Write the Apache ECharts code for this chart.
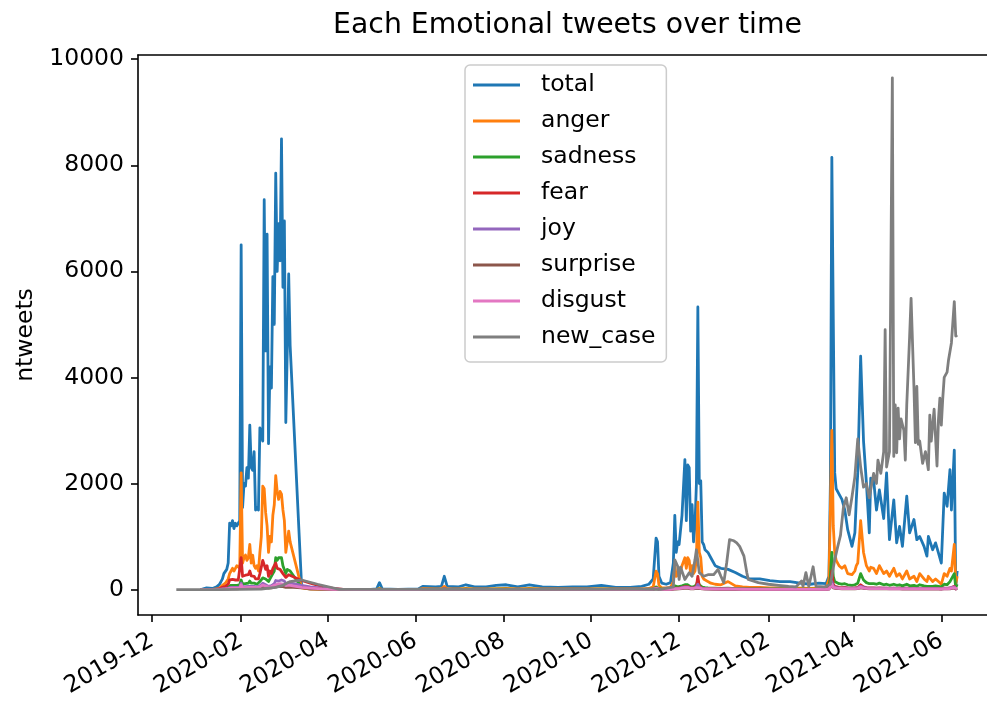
<!DOCTYPE html>
<html><head><meta charset="utf-8">
<script src="https://cdn.jsdelivr.net/npm/echarts@6/dist/echarts.min.js"></script>
<style>html,body{margin:0;padding:0;background:#fff}#c{width:987px;height:704px}</style>
</head><body><div id="c"></div><script>
// ---------- data ----------
const xTickLabels = ['2019-12','2020-02','2020-04','2020-06','2020-08','2020-10','2020-12','2021-02','2021-04','2021-06'];
const yTickLabels = [0, 2000, 4000, 6000, 8000, 10000];
const seriesNames = ['total','anger','sadness','fear','joy','surprise','disgust','new_case'];

const tweetDates = (
 '2020-01-04 2020-01-08 2020-01-12 2020-01-15 ' +
 '2020-01-16 2020-01-17 2020-01-18 2020-01-19 2020-01-20 2020-01-21 2020-01-22 2020-01-23 2020-01-24 2020-01-25 2020-01-26 2020-01-27 2020-01-28 2020-01-29 2020-01-30 2020-01-31 ' +
 '2020-02-01 2020-02-02 2020-02-03 2020-02-04 2020-02-05 2020-02-06 2020-02-07 2020-02-08 2020-02-09 2020-02-10 2020-02-11 2020-02-12 2020-02-13 2020-02-14 2020-02-15 2020-02-16 2020-02-17 2020-02-18 2020-02-19 2020-02-20 2020-02-21 2020-02-22 2020-02-23 2020-02-24 2020-02-25 2020-02-26 2020-02-27 2020-02-28 2020-02-29 ' +
 '2020-03-01 2020-03-02 2020-03-03 2020-03-04 2020-03-05 2020-03-06 ' +
 '2020-03-14 2020-03-20 2020-03-28 2020-04-05 2020-04-12 2020-04-20 2020-05-01 2020-05-05 2020-05-07 2020-05-09 2020-05-20 2020-06-03 2020-06-06 2020-06-15 2020-06-19 2020-06-21 2020-06-23 2020-07-01 2020-07-06 2020-07-12 2020-07-20 2020-07-27 2020-08-03 2020-08-11 2020-08-19 2020-08-28 2020-09-08 2020-09-18 2020-09-28 2020-10-08 2020-10-18 2020-10-28 2020-11-05 2020-11-10 ' +
 '2020-11-13 2020-11-15 2020-11-16 2020-11-17 2020-11-19 2020-11-22 2020-11-25 2020-11-27 2020-11-28 2020-11-29 2020-11-30 2020-12-01 2020-12-03 2020-12-05 2020-12-06 2020-12-07 2020-12-08 2020-12-09 2020-12-10 2020-12-11 2020-12-12 2020-12-13 2020-12-14 2020-12-15 2020-12-16 2020-12-17 2020-12-18 2020-12-19 2020-12-21 2020-12-23 2020-12-26 2020-12-30 2021-01-04 2021-01-09 2021-01-14 2021-01-19 2021-01-26 2021-02-02 2021-02-09 2021-02-16 2021-02-23 2021-03-02 2021-03-08 2021-03-13 ' +
 '2021-03-15 2021-03-16 2021-03-17 2021-03-18 2021-03-19 2021-03-20 2021-03-22 2021-03-24 2021-03-26 2021-03-28 2021-03-31 2021-04-02 2021-04-03 2021-04-04 2021-04-06 2021-04-08 2021-04-10 2021-04-12 2021-04-13 2021-04-15 2021-04-17 2021-04-19 2021-04-22 2021-04-24 2021-04-26 2021-04-29 2021-05-01 2021-05-03 2021-05-05 2021-05-08 2021-05-10 2021-05-13 2021-05-15 2021-05-17 2021-05-20 2021-05-22 2021-05-23 2021-05-26 2021-05-28 2021-05-30 2021-06-01 2021-06-03 2021-06-05 2021-06-07 2021-06-08 2021-06-10 2021-06-11 2021-06-12'
).split(' ');

const total = [
 0,30,20,50,
 60,100,150,200,300,280,380,500,1250,1200,1300,1150,1250,1200,1250,1300,
 6500,1550,2000,1950,2300,2100,3100,2300,2250,2600,1500,1550,1500,3050,2900,2800,7350,4500,6700,2750,4200,3800,5900,5000,7850,6000,6900,6200,8500,
 5700,6950,3150,4500,5950,4600,
 40,10,10,5,5,5,5,10,130,10,5,10,60,50,60,250,60,50,90,50,50,80,90,50,90,50,40,50,50,80,40,40,60,100,
 200,970,900,250,120,100,130,500,1400,700,900,850,1400,2450,1300,2350,2300,1100,1600,900,1200,2000,5330,2000,2050,900,850,750,700,600,450,400,380,320,250,200,200,170,150,150,120,100,120,110,
 250,2000,8150,5100,2200,1900,1800,1700,1500,1130,815,1070,1700,2200,4400,2800,2010,1070,2100,2070,1500,1880,1340,2200,940,1690,880,1190,815,1760,1070,1320,940,1000,815,630,1000,750,880,690,500,1820,1570,2260,1500,2630,50,350
];
const anger = [
 0,5,5,10,
 20,30,50,80,100,120,150,200,300,350,400,350,400,450,450,400,
 2200,500,600,650,550,600,850,500,650,450,400,450,350,700,1000,1950,1900,1450,1200,700,1000,900,1400,1600,2150,1850,1700,1850,1800,
 1500,1300,700,900,1100,900,
 30,10,5,3,2,2,2,3,20,3,2,3,15,10,15,60,15,10,20,10,10,15,20,10,20,10,10,10,10,15,10,10,10,20,
 50,345,300,80,30,30,40,150,450,250,300,250,450,600,400,600,550,300,450,300,350,600,1650,700,600,250,200,180,150,120,100,90,150,70,50,40,40,30,30,30,25,20,25,25,
 200,1500,3000,1200,700,550,450,400,450,300,280,350,450,500,1300,700,450,350,420,400,300,450,300,350,250,400,250,300,200,350,200,250,150,300,200,150,250,150,200,150,100,300,250,400,350,850,100,250
];
const sadness = [
 0,2,2,3,
 5,10,15,20,30,30,40,50,80,80,90,80,90,80,90,90,
 180,100,110,110,130,120,160,120,130,120,100,100,100,150,160,220,230,200,220,150,200,200,300,350,600,550,600,620,600,
 450,480,300,380,400,350,
 40,25,15,8,5,3,2,2,8,2,2,2,5,5,5,20,5,5,8,5,5,6,8,5,8,5,5,5,5,6,5,5,5,8,
 10,50,45,15,8,8,10,30,70,40,50,45,70,90,60,90,85,50,70,50,55,90,160,90,80,45,40,35,30,28,25,22,25,18,15,12,12,10,10,10,8,8,8,8,
 40,250,700,250,150,120,110,100,110,90,80,90,110,120,300,180,130,110,120,110,100,120,90,100,80,100,80,90,70,100,70,80,60,90,70,60,80,60,70,60,50,100,90,150,120,300,40,100
];
const fear = [
 0,3,3,5,
 10,20,30,40,60,60,80,100,180,170,190,160,180,170,180,200,
 600,250,280,270,300,280,350,260,280,250,200,210,200,300,320,550,530,380,450,250,350,300,400,420,500,400,420,380,360,
 300,320,230,260,280,250,
 170,120,60,20,5,2,1,1,5,1,1,1,3,3,3,10,3,3,4,3,3,3,4,3,4,3,3,3,3,4,3,3,3,5,
 5,30,25,8,4,4,5,15,40,25,30,25,40,55,35,55,50,30,40,30,35,60,250,60,50,25,22,20,18,15,12,10,12,9,7,6,6,5,5,5,4,4,4,4,
 20,120,350,100,60,45,40,35,40,30,28,30,35,40,90,50,35,30,32,30,25,30,25,28,22,28,22,25,20,25,20,22,18,22,18,16,20,16,18,16,14,25,22,30,28,60,10,20
];
const joy = [
 0,3,3,5,
 5,8,10,12,15,18,20,25,40,40,45,40,45,40,45,45,
 120,50,55,55,60,60,80,60,65,60,50,50,50,70,75,120,120,90,100,60,80,75,100,110,170,150,160,170,180,
 150,160,110,120,130,110,
 80,50,25,10,3,2,1,1,5,1,1,1,4,4,4,12,4,4,5,4,4,4,5,4,5,4,4,4,4,5,4,4,4,6,
 8,25,22,8,5,5,6,15,35,20,25,22,35,45,30,45,40,25,35,25,28,45,100,40,38,22,20,18,15,14,12,10,12,9,8,7,7,6,6,6,5,5,5,5,
 15,60,150,60,40,35,30,28,30,25,25,28,30,32,60,40,30,28,30,28,25,28,24,26,22,26,22,24,20,24,20,22,18,22,18,16,20,16,18,16,14,25,22,30,28,50,10,20
];
const surprise = [
 0,1,1,2,
 2,3,4,5,6,7,8,10,15,15,17,15,17,15,17,17,
 50,20,22,22,25,24,30,24,26,24,20,20,20,28,30,45,45,35,40,25,32,30,40,45,60,55,58,60,62,
 55,58,40,45,48,40,
 30,20,10,4,2,1,1,1,3,1,1,1,2,2,2,6,2,2,3,2,2,2,3,2,3,2,2,2,2,3,2,2,2,3,
 4,12,10,4,3,3,3,8,18,10,12,11,18,22,15,22,20,12,18,12,14,22,50,20,18,11,10,9,8,7,6,5,6,5,4,4,4,3,3,3,3,3,3,3,
 8,30,80,30,20,18,16,15,16,14,13,14,16,17,30,20,16,14,15,14,13,14,12,13,11,13,11,12,10,12,10,11,9,11,9,8,10,8,9,8,7,12,11,15,14,25,5,10
];
const disgust = [
 0,2,2,3,
 3,4,5,7,9,10,12,15,25,25,27,25,27,25,27,27,
 90,35,38,38,42,40,55,40,45,42,35,35,35,50,55,85,85,65,75,45,60,55,70,80,110,100,105,110,115,
 100,105,75,80,85,75,
 40,25,12,5,2,1,1,1,4,1,1,1,3,3,3,8,3,3,4,3,3,3,4,3,4,3,3,3,3,4,3,3,3,5,
 6,20,18,6,4,4,5,12,28,16,20,18,28,35,25,35,32,20,28,20,22,35,70,30,28,18,16,14,12,11,10,8,10,7,6,5,5,5,5,5,4,4,4,4,
 10,40,100,40,28,25,22,20,22,18,17,18,20,22,45,28,22,19,20,19,17,19,16,18,15,18,15,16,14,16,14,15,12,15,12,11,13,11,12,11,10,16,15,20,18,35,7,14
];

const caseDates = (
 '2019-12-18 2020-01-15 2020-02-01 2020-02-15 2020-02-25 2020-03-01 2020-03-06 2020-03-14 2020-03-25 2020-04-09 2020-05-01 2020-07-01 2020-09-01 2020-11-01 2020-11-18 ' +
 '2020-11-27 2020-11-28 2020-11-30 2020-12-01 2020-12-02 2020-12-05 2020-12-08 2020-12-10 2020-12-12 2020-12-13 2020-12-15 2020-12-18 2020-12-21 2020-12-25 2020-12-28 2020-12-30 ' +
 '2021-01-01 2021-01-03 2021-01-05 2021-01-08 2021-01-10 2021-01-12 2021-01-15 2021-01-17 2021-01-18 2021-01-25 2021-02-01 2021-02-08 2021-02-15 2021-02-20 2021-02-24 2021-02-25 2021-02-27 2021-03-01 2021-03-04 2021-03-06 2021-03-12 2021-03-16 ' +
 '2021-03-19 2021-03-21 2021-03-23 2021-03-25 2021-03-27 2021-03-29 2021-03-31 2021-04-02 2021-04-04 2021-04-06 2021-04-08 2021-04-10 2021-04-12 2021-04-15 2021-04-17 2021-04-18 2021-04-20 2021-04-22 2021-04-23 2021-04-24 2021-04-26 2021-04-28 2021-04-29 2021-04-30 ' +
 '2021-05-01 2021-05-02 2021-05-03 2021-05-04 2021-05-06 2021-05-07 2021-05-08 2021-05-10 2021-05-11 2021-05-13 2021-05-14 2021-05-15 2021-05-16 2021-05-17 2021-05-19 2021-05-21 2021-05-23 2021-05-24 2021-05-25 2021-05-27 2021-05-29 2021-05-30 2021-05-31 ' +
 '2021-06-01 2021-06-02 2021-06-03 2021-06-05 2021-06-06 2021-06-07 2021-06-08 2021-06-10 2021-06-11 2021-06-12'
).split(' ');
const newCase = [
 0,0,2,10,40,80,150,180,100,5,2,3,5,8,5,
 50,560,440,190,420,190,315,250,560,750,320,250,280,280,380,250,
 130,500,940,920,880,815,630,315,190,130,100,80,60,50,160,60,320,60,430,60,50,100,
 560,800,1020,1540,1730,1410,1750,2130,2840,2310,1930,2000,1730,2190,2000,2440,2190,2600,4900,2310,2600,9650,2510,3480,
 2580,3420,2840,3220,3000,2440,3480,4780,5490,3810,2770,3830,2740,2800,2380,2600,2260,3290,2800,3400,2330,3200,3610,
 3100,3610,4000,4100,4330,4330,4650,5430,4780,4800
];

const colors = ['#1f77b4','#ff7f0e','#2ca02c','#d62728','#9467bd','#8c564b','#e377c2','#7f7f7f'];
const tweetSeries = [total, anger, sadness, fear, joy, surprise, disgust];

// ---------- chart ----------
const FONT = 'DejaVu Sans';
const DAY = 86400e3;
function parseDay(s){ const p = s.split('-'); return Date.UTC(+p[0], +p[1]-1, p[2] ? +p[2] : 1); }
const xTickValues = xTickLabels.map(parseDay);
const xMin = parseDay('2019-12-01') - 9.6 * DAY;
const xMax = parseDay('2019-12-01') + 579.7 * DAY;

const series = tweetSeries.map((arr, i) => ({
  name: seriesNames[i], type: 'line', showSymbol: false, symbol: 'none',
  data: tweetDates.map((d, k) => [parseDay(d), arr[k]]),
  lineStyle: { color: colors[i], width: 2.8, join: 'round' },
  itemStyle: { color: colors[i] }, emphasis: { disabled: true }
}));
series.push({
  name: 'new_case', type: 'line', showSymbol: false, symbol: 'none',
  data: caseDates.map((d, k) => [parseDay(d), newCase[k]]),
  lineStyle: { color: colors[7], width: 2.8, join: 'round' },
  itemStyle: { color: colors[7] }, emphasis: { disabled: true }
});

const chart = echarts.init(document.getElementById('c'), null, { renderer: 'canvas' });
chart.setOption({
  animation: false,
  backgroundColor: '#fff',
  textStyle: { fontFamily: FONT },
  graphic: [{
    type: 'text', x: 567.5, y: 12,
    style: { text: 'Each Emotional tweets over time', font: '28.3px "DejaVu Sans"', fill: '#000', textAlign: 'center', textVerticalAlign: 'top' }
  }],
  grid: { left: 138, right: 0, top: 55, bottom: 89, show: false },
  legend: {
    left: 465, top: 65, orient: 'vertical', icon: 'rect', itemWidth: 47, itemHeight: 3, itemGap: 9,
    padding: [6.5, 11, 11.5, 8], borderColor: '#cccccc', borderWidth: 1.5, borderRadius: 5,
    backgroundColor: 'rgba(255,255,255,0.8)', selectedMode: false,
    textStyle: { fontSize: 23.5, color: '#000', fontFamily: FONT, lineHeight: 27, padding: [0, 0, 0, 16] },
    data: seriesNames
  },
  xAxis: [{
    type: 'value', position: 'bottom', min: xMin, max: xMax,
    axisLine: { show: true, onZero: false, lineStyle: { color: '#000', width: 1.6 } },
    axisTick: { show: true, length: 7, lineStyle: { color: '#000', width: 1.6 }, customValues: xTickValues },
    axisLabel: {
      customValues: xTickValues, rotate: 30, margin: 24, fontSize: 23.5, color: '#000', fontFamily: FONT,
      formatter: v => { const i = xTickValues.indexOf(v); return i >= 0 ? xTickLabels[i] : ''; }
    },
    splitLine: { show: false }
  }, {
    type: 'value', position: 'top', min: xMin, max: xMax,
    axisLine: { show: true, onZero: false, lineStyle: { color: '#000', width: 1.6 } },
    axisTick: { show: false }, axisLabel: { show: false }, splitLine: { show: false }
  }],
  yAxis: {
    type: 'value', min: -480, max: 10080,
    name: 'ntweets', nameLocation: 'middle', nameGap: 100, nameRotate: 90,
    nameTextStyle: { fontSize: 23.5, color: '#000', fontFamily: FONT },
    axisLine: { show: true, onZero: false, lineStyle: { color: '#000', width: 1.6 } },
    axisTick: { show: true, length: 7, lineStyle: { color: '#000', width: 1.6 }, customValues: yTickLabels },
    axisLabel: { customValues: yTickLabels, margin: 14, fontSize: 23.5, color: '#000', fontFamily: FONT,
      formatter: v => String(v) },
    splitLine: { show: false }
  },
  series: series
});
</script></body></html>
